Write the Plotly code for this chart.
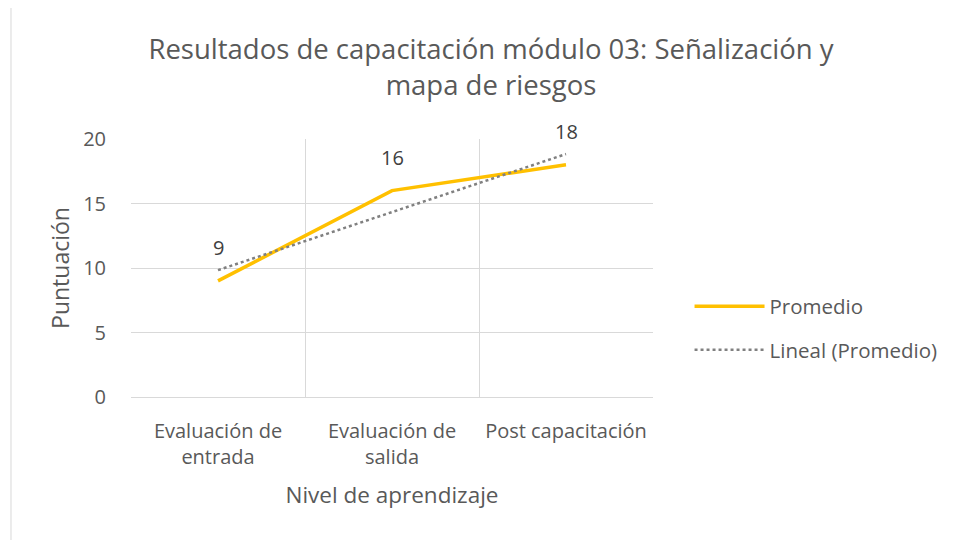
import numpy as np
import plotly.graph_objects as go

categories = ["Evaluación de<br>entrada", "Evaluación de<br>salida", "Post capacitación"]
promedio = [9, 16, 18]
y_ticks = [0, 5, 10, 15, 20]

x_pos = np.arange(1, len(categories) + 1)
slope, intercept = np.polyfit(x_pos, promedio, 1)
trend = slope * x_pos + intercept

FONT = "Open Sans"
TXT = "#595959"
GRID = "#d9d9d9"

fig = go.Figure()
fig.add_trace(go.Scatter(
    x=x_pos, y=promedio, mode="lines", name="Promedio",
    line=dict(color="#FFC000", width=3.5), legendgroup="a"))
fig.add_trace(go.Scatter(
    x=x_pos, y=trend, mode="lines", name="Lineal (Promedio)",
    line=dict(color="#808080", width=2.5, dash="dot"), legendgroup="b"))

for xv, yv in zip(x_pos, promedio):
    fig.add_annotation(x=xv, y=yv, text=str(yv), showarrow=False,
                       yshift=33, font=dict(family=FONT, size=20, color="#404040"))

fig.add_shape(type="rect", xref="paper", yref="paper",
              x0=-0.2299, x1=2.0, y0=-1.0, y1=1.5116,
              line=dict(color=GRID, width=1), fillcolor="rgba(0,0,0,0)", layer="below")

fig.update_layout(
    width=957, height=540,
    paper_bgcolor="white", plot_bgcolor="white",
    margin=dict(l=123, r=312, t=131, b=151),
    title=dict(text="Resultados de capacitación módulo 03: Señalización y<br>mapa de riesgos",
               x=0.5047, xanchor="center", xref="container", yref="container",
               y=0.906, yanchor="top",
               font=dict(family=FONT, size=27.5, color=TXT)),
    font=dict(family=FONT, color=TXT),
    legend=dict(x=1.07, y=0.266, xanchor="left", yanchor="middle",
                font=dict(family=FONT, size=20.5, color=TXT),
                itemwidth=70, tracegroupgap=14, bgcolor="rgba(0,0,0,0)"),
    xaxis=dict(range=[0.5, 3.5], tickmode="array", tickvals=x_pos, ticktext=categories,
               showgrid=False, zeroline=False, showline=True, linecolor=GRID, linewidth=1,
               ticks="", ticklabelstandoff=16,
               tickfont=dict(family=FONT, size=20, color=TXT),
               minor=dict(tick0=0.5, dtick=1, showgrid=True, gridcolor=GRID, gridwidth=1, ticks=""),
               title=dict(text="Nivel de aprendizaje", standoff=18,
                          font=dict(family=FONT, size=22.5, color=TXT))),
    yaxis=dict(range=[0, 20], tickmode="array", tickvals=y_ticks,
               showgrid=True, gridcolor=GRID, gridwidth=1, zeroline=False,
               ticks="", ticklabelstandoff=24,
               tickfont=dict(family=FONT, size=20, color=TXT),
               title=dict(text="Puntuación", standoff=7,
                          font=dict(family=FONT, size=23, color=TXT))),
)

fig.write_html("out.html")
